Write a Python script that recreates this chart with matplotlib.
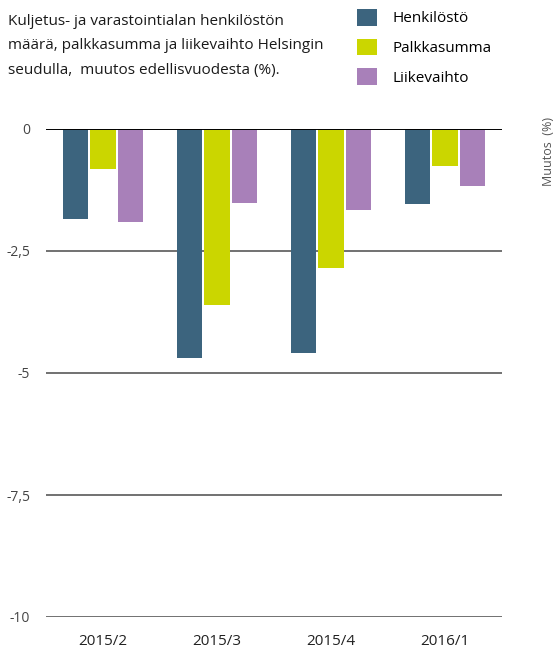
import matplotlib
matplotlib.use('Agg')

import matplotlib.pyplot as plt
import numpy as np

plt.rcParams['font.family'] = ['Open Sans', 'DejaVu Sans']

categories = ["2015/2", "2015/3", "2015/4", "2016/1"]
henkilosto = [-1.84, -4.7, -4.6, -1.53]
palkkasumma = [-0.81, -3.6, -2.84, -0.75]
liikevaihto = [-1.9, -1.51, -1.65, -1.16]

series = [
    ("Henkilöstö", henkilosto, "#3c647e"),
    ("Palkkasumma", palkkasumma, "#cbd600"),
    ("Liikevaihto", liikevaihto, "#a880b9"),
]

fig = plt.figure(figsize=(5.55, 6.55), dpi=100)
ax = fig.add_axes([46 / 555, 1 - 617 / 655, 456 / 555, 488 / 655])

x = np.arange(len(categories))
width = 0.22
step = 0.245
handles = []
for i, (name, vals, col) in enumerate(series):
    b = ax.bar(x + (i - 1) * step, vals, width=width, color=col, label=name, zorder=3)
    handles.append(b)

ax.set_xlim(-0.5, len(categories) - 0.5)
ax.set_ylim(-10, 0)
yt = [0, -2.5, -5, -7.5, -10]
ax.set_yticks(yt)
ax.set_yticklabels(["0", "-2,5", "-5", "-7,5", "-10"], fontsize=10, color="#444444")
ax.set_xticks(x)
ax.set_xticklabels(categories, fontsize=11, color="#222222")
ax.tick_params(axis='both', length=0)
ax.tick_params(axis='y', pad=11.5)
ax.tick_params(axis='x', pad=12)

for s in ax.spines.values():
    s.set_visible(False)
for v in yt[1:]:
    ax.axhline(v, color="#4a4a4a", lw=1.1, zorder=1)
ax.axhline(0, color="black", lw=1.4, zorder=4)

# y-akselin otsikko oikealla
fig.text(548 / 555, 1 - 152 / 655, "Muutos  (%)", rotation=90, ha="center", va="center",
         fontsize=9, color="#555555")

fig.text(8 / 555, 1 - 14 / 655,
         "Kuljetus- ja varastointialan henkilöstön\n"
         "määrä, palkkasumma ja liikevaihto Helsingin\n"
         "seudulla,  muutos edellisvuodesta (%).",
         ha="left", va="top", fontsize=11, color="#1a1a1a", linespacing=1.86)

fig.legend(handles=handles, loc="upper left", bbox_to_anchor=(357 / 555, 1 - 9 / 655),
           frameon=False, fontsize=11, handlelength=1.3, handleheight=1.3,
           labelspacing=0.8, handletextpad=1.0, borderpad=0, borderaxespad=0)

fig.savefig("out.png", dpi=100)
